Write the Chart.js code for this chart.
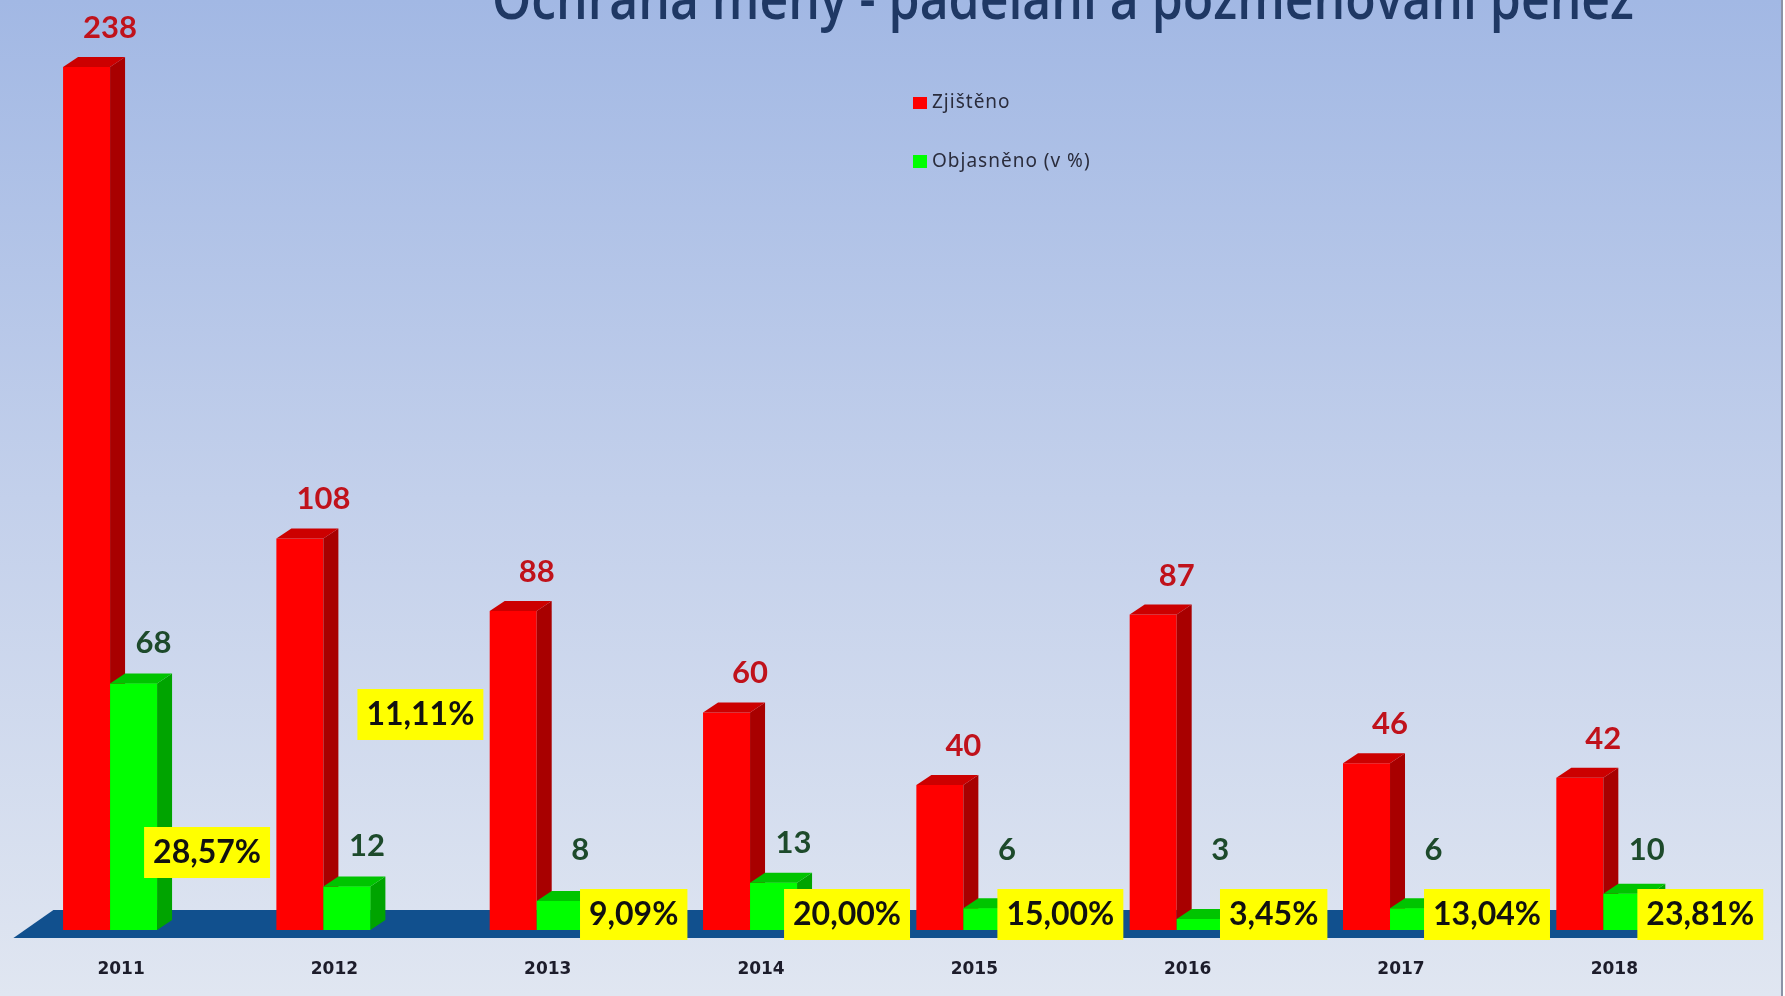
<!DOCTYPE html>
<html>
<head>
<meta charset="utf-8">
<script src="https://cdn.jsdelivr.net/npm/chart.js@4.4.1/dist/chart.umd.min.js"></script>
<style>
  html, body { margin: 0; padding: 0; background: #fff; }
  #wrap { width: 1785px; height: 996px; }
</style>
</head>
<body>
<div id="wrap"><canvas id="graf" width="1785" height="996"></canvas></div>
<script>
var roky = ['2011', '2012', '2013', '2014', '2015', '2016', '2017', '2018'];
var zjisteno = [238, 108, 88, 60, 40, 87, 46, 42];
var objasneno = [68, 12, 8, 13, 6, 3, 6, 10];
var podil = [28.57, 11.11, 9.09, 20.00, 15.00, 3.45, 13.04, 23.81];

var nadpis = 'Ochrana měny - padělání a pozměňování peněz';
var legenda = ['Zjištěno', 'Objasněno (v %)'];

// 3d look: depth of the side face
var DX = 15, DY = -10;
// a few percentage boxes were moved up by hand in the original
var zvednuti = { 0: 62, 1: 200 };

var barvy = {
    red:   { front: '#ff0000', side: '#a80000', top: '#cc0000' },
    green: { front: '#00ff00', side: '#00a400', top: '#00c400' }
};

function poly(ctx, pts, color) {
    ctx.beginPath();
    ctx.moveTo(pts[0][0], pts[0][1]);
    for (var i = 1; i < pts.length; i++) ctx.lineTo(pts[i][0], pts[i][1]);
    ctx.closePath();
    ctx.fillStyle = color;
    ctx.fill();
}

function strany(ctx, meta, c) {
    meta.data.forEach(function (bar) {
        var p = bar.getProps(['x', 'y', 'base', 'width'], true);
        var l = p.x - p.width / 2, r = p.x + p.width / 2;
        poly(ctx, [[r, p.y], [r + DX, p.y + DY], [r + DX, p.base + DY], [r, p.base]], c.side);
        poly(ctx, [[l, p.y], [l + DX, p.y + DY], [r + DX, p.y + DY], [r, p.y]], c.top);
    });
}

var efekty = {
    id: 'efekty',
    beforeDraw: function (chart) {
        var ctx = chart.ctx, w = chart.width, h = chart.height;
        var g = ctx.createLinearGradient(0, 0, 0, h);
        g.addColorStop(0, '#a2b8e4');
        g.addColorStop(0.5, '#c3d0eb');
        g.addColorStop(1, '#e0e6f1');
        ctx.save();
        ctx.fillStyle = g;
        ctx.fillRect(0, 0, w, h);
        ctx.fillStyle = '#ffffff';
        ctx.fillRect(w - 3, 0, 3, h);
        ctx.fillStyle = '#8b93a6';
        ctx.fillRect(w - 4, 0, 2, h);

        // title, cut off at the top like in the source
        ctx.font = '600 46px "Open Sans"';
        ctx.fillStyle = '#1f3864';
        ctx.textBaseline = 'alphabetic';
        var tw = ctx.measureText(nadpis).width;
        var sx = 1142 / tw;
        ctx.translate(1063, 19);
        ctx.scale(sx, 1.25);
        ctx.textAlign = 'center';
        ctx.fillText(nadpis, 0, 0);
        ctx.restore();

        // legend
        ctx.save();
        ctx.font = '19px "Noto Sans"';
        ctx.letterSpacing = '1px';
        ctx.textBaseline = 'middle';
        ctx.fillStyle = '#ff0000';
        ctx.fillRect(913, 97, 14, 12);
        ctx.fillStyle = '#00ff00';
        ctx.fillRect(913, 155, 14, 13);
        ctx.fillStyle = '#2a2c3c';
        ctx.fillText(legenda[0], 932, 103);
        ctx.fillText(legenda[1], 932, 162);
        ctx.restore();
    },
    beforeDatasetsDraw: function (chart) {
        // blue floor
        var ctx = chart.ctx, a = chart.chartArea;
        var base = chart.scales.y.getPixelForValue(0);
        poly(ctx, [
            [a.left + 10, base + 8],
            [a.left + 50, base - 20],
            [a.right + 52, base - 20],
            [a.right + 12, base + 8]
        ], '#11508e');
    },
    afterDatasetDraw: function (chart, args) {
        // green is drawn first by Chart.js; after red, redraw green so it sits in front
        if (args.index !== 0) return;
        var ctx = chart.ctx;
        strany(ctx, args.meta, barvy.red);
        var gm = chart.getDatasetMeta(1);
        gm.data.forEach(function (el) { el.draw(ctx, chart.chartArea); });
        strany(ctx, gm, barvy.green);
    },
    afterDraw: function (chart) {
        var ctx = chart.ctx;
        var base = chart.scales.y.getPixelForValue(0);
        var red = chart.getDatasetMeta(0).data;
        var green = chart.getDatasetMeta(1).data;
        ctx.save();
        ctx.textAlign = 'center';
        ctx.textBaseline = 'middle';
        for (var i = 0; i < roky.length; i++) {
            var rb = red[i], gb = green[i];
            var mid = (rb.x + gb.x) / 2;
            ctx.font = 'bold 31px Lato';
            ctx.fillStyle = '#c0121b';
            ctx.fillText(String(zjisteno[i]), mid, rb.y - 39);
            ctx.fillStyle = '#1d4a2b';
            ctx.fillText(String(objasneno[i]), gb.x + 20, Math.min(gb.y - 40, base - 80));

            var txt = podil[i].toFixed(2).replace('.', ',') + '%';
            ctx.font = 'bold 32px Lato';
            var tw = ctx.measureText(txt).width;
            var cx = mid + 97, cy = base - 16 - (zvednuti[i] || 0);
            ctx.fillStyle = '#ffff00';
            ctx.fillRect(cx - tw / 2 - 9, cy - 25, tw + 18, 51);
            ctx.fillStyle = '#111111';
            ctx.fillText(txt, cx, cy + 1);
        }
        ctx.restore();
    }
};

new Chart(document.getElementById('graf'), {
    type: 'bar',
    data: {
        labels: roky,
        datasets: [{
            label: legenda[0],
            data: zjisteno,
            backgroundColor: barvy.red.front
        }, {
            label: legenda[1],
            data: objasneno,
            backgroundColor: barvy.green.front
        }]
    },
    options: {
        responsive: false,
        animation: false,
        events: [],
        categoryPercentage: 0.4407,
        barPercentage: 1,
        layout: { padding: { left: 3.4, right: 75, top: 23.5, bottom: -12.4 } },
        plugins: {
            legend: { display: false },
            tooltip: { enabled: false }
        },
        scales: {
            x: {
                grid: { display: false, drawTicks: false },
                border: { display: false },
                ticks: {
                    color: '#1c1c2a',
                    font: { family: 'DejaVu Sans', weight: 'bold', size: 17 },
                    padding: 29,
                    labelOffset: 11
                }
            },
            y: {
                display: false,
                min: 0,
                max: 250
            }
        }
    },
    plugins: [efekty]
});
</script>
</body>
</html>
